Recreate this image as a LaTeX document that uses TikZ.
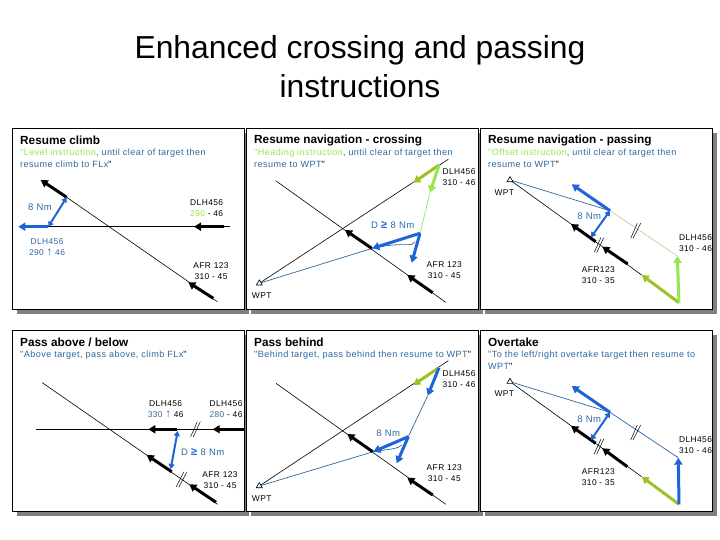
\documentclass[tikz,border=0pt]{standalone}
\usepackage{xcolor}
\usepackage{fontspec}
\setmainfont{Liberation Sans}
\usetikzlibrary{arrows.meta, shadows, shapes.geometric}
\definecolor{routeblue}{RGB}{30, 100, 215}
\definecolor{noteblue}{RGB}{45, 105, 160}
\definecolor{instrolive}{RGB}{155, 195, 40}
\definecolor{instrlime}{RGB}{150, 230, 80}
\definecolor{limeleg}{RGB}{190, 215, 150}
\definecolor{shadowgray}{RGB}{128, 128, 128}
\newfontfamily\notefont[LetterSpace=5]{Liberation Sans}
\newcommand{\lime}[1]{\textcolor{instrlime}{#1}}
\newcommand{\nte}[1]{\textcolor{noteblue}{#1}}
\newcommand{\geqmark}{\textcolor{routeblue}{\fontsize{11}{11}\selectfont\textbf{≥}}}
\newcommand{\climbmark}{{\fontsize{11.5}{11}\selectfont ↑}}
\tikzset{
  panelbox/.style={rectangle, draw=black, line width=0.9pt, fill=white, anchor=north west,
    minimum width=232pt, minimum height=181pt, inner sep=0pt,
    drop shadow={shadow xshift=5pt, shadow yshift=-5pt, fill=shadowgray, opacity=1}},
  paneltitle/.style={anchor=west, inner sep=0pt, font=\fontsize{11.8}{13}\selectfont\bfseries},
  panelnote/.style={anchor=north west, inner sep=0pt, align=left, font=\fontsize{9.05}{12}\notefont, text=noteblue},
  flightlabel/.style={inner sep=0pt, align=center, font=\fontsize{8.4}{11}\notefont},
  gaplabel/.style={inner sep=0pt, font=\fontsize{9.5}{11}\notefont, text=noteblue},
  wptmark/.style={draw=black, fill=white, isosceles triangle, shape border rotate=90, isosceles triangle apex angle=60,
    inner sep=0pt, minimum width=6pt, minimum height=5pt, line width=0.6pt},
  thinleg/.style={draw=black, line width=0.6pt},
  blueleg/.style={draw=noteblue, line width=0.7pt},
  limeline/.style={draw=limeleg, line width=0.7pt},
  track/.style={line width=3pt, -{Triangle[length=7pt, width=8pt]}},
  gapmark/.style={draw=routeblue, line width=2pt, {Triangle[length=5pt, width=6pt]}-{Triangle[length=5pt, width=6pt]}},
  slashmark/.style={draw=black, line width=0.5pt},
}
\begin{document}
\begin{tikzpicture}[x=1pt, y=-1pt]
  \useasboundingbox (0,0) rectangle (720,540);
  \node[inner sep=0pt, align=center, font=\fontsize{31.8}{39}\selectfont] (slidetitle) at (360,67)
    {Enhanced crossing and passing\\instructions};

  % panels
  \node[panelbox] (climbpanel) at (12,128) {};
  \node[panelbox] (crosspanel) at (246,128) {};
  \node[panelbox] (passpanel) at (480,128) {};
  \node[panelbox] (abovepanel) at (12,330) {};
  \node[panelbox] (behindpanel) at (246,330) {};
  \node[panelbox] (overtakepanel) at (480,330) {};

  \node[paneltitle] (climbtitle) at (20,140) {Resume climb};
  \node[paneltitle] (crosstitle) at (254,140) {Resume navigation - crossing};
  \node[paneltitle] (passtitle) at (488,140) {Resume navigation - passing};
  \node[paneltitle] (abovetitle) at (20,342) {Pass above / below};
  \node[paneltitle] (behindtitle) at (254,342) {Pass behind};
  \node[paneltitle] (overtaketitle) at (488,342) {Overtake};

  \node[panelnote] (climbnote) at (20,149) {\lime{"Level instruction}, until clear of target then\\resume climb to FLx\textcolor{black}{"}};
  \node[panelnote] (crossnote) at (254,149) {\lime{"Heading instruction}, until clear of target then\\resume to WPT\textcolor{black}{"}};
  \node[panelnote] (passnote) at (488,149) {\lime{"Offset instruction}, until clear of target then\\resume to WPT\textcolor{black}{"}};
  \node[panelnote] (abovenote) at (20,351) {"Above target, pass above, climb FLx\textcolor{black}{"}};
  \node[panelnote] (behindnote) at (254,351) {"Behind target, pass behind then resume to WPT\textcolor{black}{"}};
  \node[panelnote] (overtakenote) at (488,351) {"To the left/right overtake target then resume to\\WPT\textcolor{black}{"}};

  % resume climb
  \coordinate (climbA) at (230,226.7);
  \coordinate (climbB) at (224,226.7);
  \coordinate (climbC) at (194,226.7);
  \coordinate (climbD) at (48.3,226.7);
  \coordinate (climbE) at (18.3,226.7);
  \coordinate (climbF) at (217.3,301.7);
  \coordinate (climbG) at (213.3,298.3);
  \coordinate (climbH) at (188.3,282.3);
  \coordinate (climbI) at (66.7,197.3);
  \coordinate (climbJ) at (40.7,180);
  \draw[thinleg] (climbA) -- (climbD);
  \draw[thinleg] (climbF) -- (climbI);
  \draw[track, black] (climbB) -- (climbC);
  \draw[track, black] (climbG) -- (climbH);
  \draw[track, black] (climbI) -- (climbJ);
  \draw[track, routeblue] (climbD) -- (climbE);
  \draw[gapmark] (climbD) -- (climbI);
  \node[gaplabel] (climbgap) at (40,207.7) {8 Nm};
  \node[flightlabel] (climbown) at (206.7,208.5) {DLH456\\\lime{290} - 46};
  \node[flightlabel, text=noteblue] (climbnew) at (47,247) {DLH456\\290 \climbmark{} 46};
  \node[flightlabel] (climbtarget) at (211,271.5) {AFR 123\\310 - 45};

  % resume navigation, crossing
  \coordinate (crossW) at (259.3,283.3);
  \coordinate (crossA) at (448.3,159.3);
  \coordinate (crossB) at (439,165);
  \coordinate (crossC) at (413.3,182.7);
  \coordinate (crossD) at (430,192.7);
  \coordinate (crossE) at (420,233.3);
  \coordinate (crossF) at (372.3,248.3);
  \coordinate (crossG) at (411.7,262.7);
  \coordinate (crossH) at (415,241.7);
  \coordinate (crossI) at (275.7,180.7);
  \coordinate (crossJ) at (445.7,302.3);
  \coordinate (crossK) at (371.7,248.3);
  \coordinate (crossL) at (345,230);
  \coordinate (crossM) at (432.7,292.7);
  \coordinate (crossN) at (407.3,275);
  \draw[thinleg] (crossW) -- (crossA);
  \draw[thinleg] (crossI) -- (crossJ);
  \draw[limeline, draw=instrlime] (crossD) -- (crossE);
  \draw[blueleg] (crossW) -- (crossF) .. controls (405,241) and (412,248) .. (crossH);
  \draw[track, instrolive] (crossB) -- (crossC);
  \draw[track, instrlime] (crossB) -- (crossD);
  \draw[track, black] (crossK) -- (crossL);
  \draw[track, black] (crossM) -- (crossN);
  \draw[track, routeblue] (crossE) -- (crossF);
  \draw[track, routeblue] (crossE) -- (crossG);
  \node[wptmark] (crosswpt) at (crossW) {};
  \node[flightlabel] (crosswptname) at (261.7,296) {WPT};
  \node[gaplabel] (crossgap) at (392.7,225) {D \geqmark{} 8 Nm};
  \node[flightlabel] (crossown) at (459,177.5) {DLH456\\310 - 46};
  \node[flightlabel] (crosstarget) at (444.3,270.5) {AFR 123\\310 - 45};

  % resume navigation, passing
  \coordinate (passW) at (510,180);
  \coordinate (passA) at (641.7,275);
  \coordinate (passB) at (595.7,241.7);
  \coordinate (passC) at (571,224);
  \coordinate (passD) at (627.7,264);
  \coordinate (passE) at (602.3,246.7);
  \coordinate (passF) at (679,302.7);
  \coordinate (passG) at (677.3,256);
  \coordinate (passH) at (610,210.7);
  \coordinate (passI) at (571.7,184.3);
  \coordinate (passJ) at (591,237.3);
  \coordinate (passK) at (594.3,252.3);
  \coordinate (passL) at (601,237.3);
  \coordinate (passM) at (596.7,252.7);
  \coordinate (passN) at (603.7,237.7);
  \coordinate (passO) at (630.7,238.3);
  \coordinate (passP) at (637.3,223.3);
  \coordinate (passQ) at (633,238.3);
  \coordinate (passR) at (640.7,223.3);
  \draw[thinleg] (passW) -- (passA);
  \draw[limeline] (passG) -- (passH);
  \draw[blueleg] (passW) -- (passH);
  \draw[track, black] (passB) -- (passC);
  \draw[track, black] (passD) -- (passE);
  \draw[track, instrolive] (passF) -- (passA);
  \draw[track, instrlime] (passF) -- (passG);
  \draw[track, routeblue] (passH) -- (passI);
  \draw[gapmark] (passH) -- (passJ);
  \draw[slashmark] (passK) -- (passL);
  \draw[slashmark] (passM) -- (passN);
  \draw[slashmark] (passO) -- (passP);
  \draw[slashmark] (passQ) -- (passR);
  \node[wptmark] (passwpt) at (passW) {};
  \node[flightlabel] (passwptname) at (504.3,192.3) {WPT};
  \node[gaplabel] (passgap) at (589.3,216.7) {8 Nm};
  \node[flightlabel] (passown) at (695.5,243) {DLH456\\310 - 46};
  \node[flightlabel] (passtarget) at (598.3,275) {AFR123\\310 - 35};

  % pass above / below
  \coordinate (aboveA) at (36,429.3);
  \coordinate (aboveB) at (243.5,429.3);
  \coordinate (aboveC) at (212.7,429.3);
  \coordinate (aboveD) at (177.3,429.3);
  \coordinate (aboveE) at (148.3,429.3);
  \coordinate (aboveF) at (42.3,382.7);
  \coordinate (aboveG) at (217.7,504.3);
  \coordinate (aboveH) at (216,502.3);
  \coordinate (aboveI) at (189.3,484.3);
  \coordinate (aboveJ) at (171.7,471.7);
  \coordinate (aboveK) at (146.7,455);
  \coordinate (aboveL) at (177.7,431);
  \coordinate (aboveM) at (170.7,469);
  \coordinate (aboveN) at (190.7,436.7);
  \coordinate (aboveO) at (197.3,421.7);
  \coordinate (aboveP) at (193.3,436.7);
  \coordinate (aboveQ) at (200.3,421.7);
  \coordinate (aboveR) at (176,487);
  \coordinate (aboveS) at (184,471.7);
  \coordinate (aboveT) at (178.7,487.3);
  \coordinate (aboveU) at (186.7,472.3);
  \draw[thinleg] (aboveA) -- (aboveB);
  \draw[thinleg] (aboveF) -- (aboveG);
  \draw[track, black] (aboveB) -- (aboveC);
  \draw[track, black] (aboveD) -- (aboveE);
  \draw[track, black] (aboveH) -- (aboveI);
  \draw[track, black] (aboveJ) -- (aboveK);
  \draw[gapmark] (aboveL) -- (aboveM);
  \draw[slashmark] (aboveN) -- (aboveO);
  \draw[slashmark] (aboveP) -- (aboveQ);
  \draw[slashmark] (aboveR) -- (aboveS);
  \draw[slashmark] (aboveT) -- (aboveU);
  \node[gaplabel] (abovegap) at (202.7,451.7) {D \geqmark{} 8 Nm};
  \node[flightlabel] (abovenew) at (165.7,409) {DLH456\\\nte{330 \climbmark{}} 46};
  \node[flightlabel] (aboveown) at (226,409) {DLH456\\\nte{280} - 46};
  \node[flightlabel] (abovetarget) at (220,480.5) {AFR 123\\310 - 45};

  % pass behind
  \coordinate (behindW) at (259.3,486);
  \coordinate (behindA) at (448.3,360.7);
  \coordinate (behindB) at (439,367.7);
  \coordinate (behindC) at (413.3,385);
  \coordinate (behindD) at (427.7,395.7);
  \coordinate (behindE) at (408.3,436.7);
  \coordinate (behindF) at (373.3,451.7);
  \coordinate (behindG) at (396.7,463.3);
  \coordinate (behindH) at (401.7,445);
  \coordinate (behindI) at (276,383.3);
  \coordinate (behindJ) at (445.7,504.3);
  \coordinate (behindK) at (372.7,451.7);
  \coordinate (behindL) at (347.3,434);
  \coordinate (behindM) at (432.7,495);
  \coordinate (behindN) at (407.3,477.7);
  \draw[thinleg] (behindW) -- (behindA);
  \draw[thinleg] (behindI) -- (behindJ);
  \draw[blueleg] (behindD) -- (behindE);
  \draw[blueleg] (behindW) -- (behindF) .. controls (390,449) and (398,449) .. (behindH);
  \draw[track, instrolive] (behindB) -- (behindC);
  \draw[track, routeblue] (behindB) -- (behindD);
  \draw[track, black] (behindK) -- (behindL);
  \draw[track, black] (behindM) -- (behindN);
  \draw[track, routeblue] (behindE) -- (behindF);
  \draw[track, routeblue] (behindE) -- (behindG);
  \node[wptmark] (behindwpt) at (behindW) {};
  \node[flightlabel] (behindwptname) at (261.7,498.3) {WPT};
  \node[gaplabel] (behindgap) at (388.3,433.3) {8 Nm};
  \node[flightlabel] (behindown) at (459,379.5) {DLH456\\310 - 46};
  \node[flightlabel] (behindtarget) at (444.3,473) {AFR 123\\310 - 45};

  % overtake
  \coordinate (overW) at (510,381.7);
  \coordinate (overA) at (641.7,476.7);
  \coordinate (overB) at (595.7,443.3);
  \coordinate (overC) at (571,426);
  \coordinate (overD) at (627.3,466.7);
  \coordinate (overE) at (602.3,448.3);
  \coordinate (overF) at (679,504.3);
  \coordinate (overG) at (678.3,457.7);
  \coordinate (overH) at (610,412.3);
  \coordinate (overI) at (571.7,386);
  \coordinate (overJ) at (591,440);
  \coordinate (overK) at (594,454.3);
  \coordinate (overL) at (601,439);
  \coordinate (overM) at (596.7,454.3);
  \coordinate (overN) at (603.7,439);
  \coordinate (overO) at (630.7,440);
  \coordinate (overP) at (637.3,425);
  \coordinate (overQ) at (633,440);
  \coordinate (overR) at (640.7,425);
  \draw[thinleg] (overW) -- (overA);
  \draw[blueleg] (overG) -- (overH);
  \draw[blueleg] (overW) -- (overH);
  \draw[track, black] (overB) -- (overC);
  \draw[track, black] (overD) -- (overE);
  \draw[track, instrolive] (overF) -- (overA);
  \draw[track, routeblue] (overF) -- (overG);
  \draw[track, routeblue] (overH) -- (overI);
  \draw[gapmark] (overH) -- (overJ);
  \draw[slashmark] (overK) -- (overL);
  \draw[slashmark] (overM) -- (overN);
  \draw[slashmark] (overO) -- (overP);
  \draw[slashmark] (overQ) -- (overR);
  \node[wptmark] (overwpt) at (overW) {};
  \node[flightlabel] (overwptname) at (504.3,394) {WPT};
  \node[gaplabel] (overgap) at (589.3,419.3) {8 Nm};
  \node[flightlabel] (overown) at (695.5,445.5) {DLH456\\310 - 46};
  \node[flightlabel] (overtarget) at (598.3,477) {AFR123\\310 - 35};
\end{tikzpicture}
\end{document}
